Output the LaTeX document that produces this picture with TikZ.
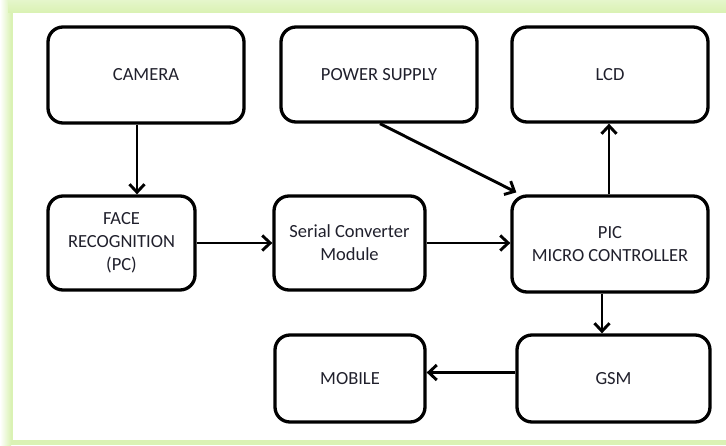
\documentclass[tikz,border=0pt]{standalone}
\usepackage{fontspec}
\setmainfont{Carlito}
\usetikzlibrary{arrows.meta}
\definecolor{frameg}{HTML}{DAF2B4}
\definecolor{txt}{HTML}{20202C}
\begin{document}
\begin{tikzpicture}[x=1pt,y=-1pt,
  blk/.style={draw=black, line width=3.3pt, rounded corners=15pt, fill=white,
    align=center, text=txt, inner sep=2pt, font=\fontsize{18.5}{23}\selectfont},
  arr/.style={draw=black, line width=2.9pt, -{Straight Barb[length=8pt,width=15pt,line width=2.9pt]}}]
\useasboundingbox (0,0) rectangle (726,445);
\fill[frameg] (0,0) rectangle (726,445);
\shade[left color=white, right color=frameg] (0,0) rectangle (11,445);
\shade[top color=frameg!70, bottom color=frameg] (8,0) rectangle (726,12);
\fill[white] (13,13) rectangle (726,440);

\node[blk, minimum width=196pt, minimum height=96pt] (camera) at (146,75) {CAMERA};
\node[blk, minimum width=196pt, minimum height=95pt] (power) at (379,74.5) {POWER SUPPLY};
\node[blk, minimum width=196pt, minimum height=95pt] (lcd) at (610,74.5) {LCD};
\node[blk, minimum width=147pt, minimum height=94pt] (face) at (121.5,243) {FACE\\RECOGNITION\\(PC)};
\node[blk, minimum width=151pt, minimum height=94pt] (serial) at (349.5,243) {Serial Converter\\Module};
\node[blk, minimum width=196pt, minimum height=96pt] (pic) at (610,244) {PIC\\MICRO CONTROLLER};
\node[blk, minimum width=150pt, minimum height=87pt] (mobile) at (350,378.5) {MOBILE};
\node[blk, minimum width=193pt, minimum height=87pt] (gsm) at (613.5,378.5) {GSM};

\draw[arr] ([xshift=-9pt]camera.south) -- ([xshift=-9pt]camera.south |- face.north);
\draw[arr] (face.east) -- (face.east -| serial.west);
\draw[arr] (serial.east) -- (serial.east -| pic.west);
\draw[arr] ([xshift=1pt]power.south) -- ([xshift=6pt,yshift=2pt]pic.north west);
\draw[arr] ([xshift=-1pt]pic.north) -- ([xshift=-1pt]pic.north |- lcd.south);
\draw[arr] ([xshift=-8pt]pic.south) -- ([xshift=-8pt]pic.south |- gsm.north);
\draw[arr] ([yshift=6pt]gsm.west) -- ([yshift=6pt]gsm.west -| mobile.east);
\end{tikzpicture}
\end{document}
